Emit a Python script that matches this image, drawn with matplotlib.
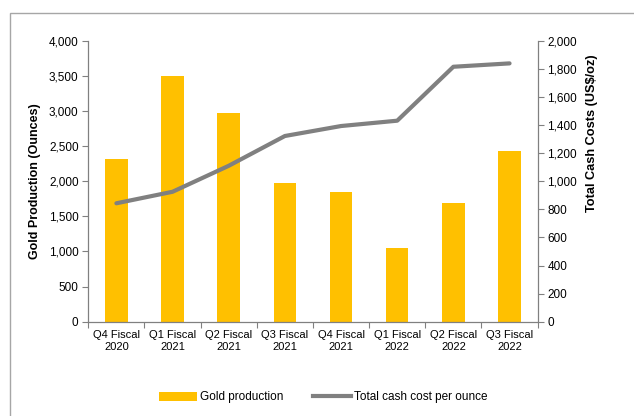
import matplotlib.pyplot as plt
from matplotlib.patches import Rectangle, Patch
from matplotlib.lines import Line2D
from matplotlib.ticker import FuncFormatter, FixedLocator, NullFormatter

plt.rcParams['font.family'] = ['Liberation Sans', 'DejaVu Sans']

quarters = ["Q4 Fiscal\n2020", "Q1 Fiscal\n2021", "Q2 Fiscal\n2021", "Q3 Fiscal\n2021",
            "Q4 Fiscal\n2021", "Q1 Fiscal\n2022", "Q2 Fiscal\n2022", "Q3 Fiscal\n2022"]
gold_oz = [2315, 3500, 2965, 1980, 1845, 1050, 1690, 2430]
cash_cost = [843, 925, 1110, 1322, 1393, 1431, 1815, 1839]

GOLD = "#FFC000"
GREY = "#808080"

fig = plt.figure(figsize=(6.34, 4.16), dpi=100)
# outer chart frame
fig.patches.append(Rectangle((10 / 634, -0.1), 1.1, 1 - 13 / 416 + 0.1,
                             transform=fig.transFigure, fill=False,
                             edgecolor="#A6A6A6", linewidth=1.0))

ax = fig.add_axes([0.1393, 0.2267, 0.7087, 0.6753])
ax2 = ax.twinx()

x = list(range(len(quarters)))
ax.bar(x, gold_oz, width=0.4, color=GOLD, zorder=2)
ax2.plot(x, cash_cost, color=GREY, linewidth=3.0, solid_capstyle="round", zorder=3)

ax.set_xlim(-0.5, len(quarters) - 0.5)
ax.set_ylim(0, 4000)
ax2.set_ylim(0, 2000)
ax.set_yticks(range(0, 4001, 500))
ax2.set_yticks(range(0, 2001, 200))
thousands = FuncFormatter(lambda v, p: f"{int(v):,}")
ax.yaxis.set_major_formatter(thousands)
ax2.yaxis.set_major_formatter(thousands)

# category labels centred, tick marks between categories
ax.set_xticks(x)
ax.set_xticklabels(quarters, fontsize=8)
ax.tick_params(axis="x", which="major", length=0, pad=6)
ax.xaxis.set_minor_locator(FixedLocator([i - 0.5 for i in range(len(quarters) + 1)]))
ax.xaxis.set_minor_formatter(NullFormatter())
ax.tick_params(axis="x", which="minor", length=4, color=GREY, width=0.8)

ax.tick_params(axis="y", length=4, color=GREY, width=0.8, labelsize=8.5, pad=3)
ax2.tick_params(axis="y", length=4, color=GREY, width=0.8, labelsize=8.5, pad=3)

for a in (ax, ax2):
    a.spines["top"].set_visible(False)
    for s in ("left", "right", "bottom"):
        a.spines[s].set_color(GREY)
        a.spines[s].set_linewidth(0.9)
ax.spines["right"].set_visible(False)
ax2.spines["left"].set_visible(False)
ax2.spines["bottom"].set_visible(False)

ax.set_ylabel("Gold Production (Ounces)", fontsize=9, fontweight="bold")
ax.yaxis.set_label_coords(-0.106, 0.5)
ax2.set_ylabel("Total Cash Costs (US$/oz)", fontsize=9.2, fontweight="bold")
ax2.yaxis.set_label_coords(1.108, 0.67)

handles = [Patch(facecolor=GOLD, edgecolor="none"),
           Line2D([0], [0], color=GREY, linewidth=3.0)]
fig.legend(handles, ["Gold production", "Total cash cost per ounce"],
           loc="center", bbox_to_anchor=(0.51, 0.045), ncol=2, frameon=False,
           fontsize=8.5, handlelength=3.2, handleheight=0.8, columnspacing=2.5,
           handletextpad=0.3)

fig.savefig("out.png", dpi=100)
